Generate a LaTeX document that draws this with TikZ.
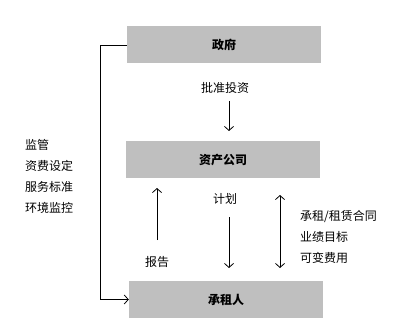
\documentclass[tikz,border=0pt]{standalone}
\usepackage{fontspec}
\setmainfont{Noto Sans CJK SC}
\usepackage{xcolor}
\usetikzlibrary{arrows.meta}
\definecolor{mygray}{HTML}{BFBFBF}

\begin{document}
\begin{tikzpicture}[x=1pt,y=-1pt]
			\tikzset{% styles for boxes, labels and arrows
				graybox/.style={rectangle,minimum width=194pt,minimum height=37pt,fill=mygray,font=\fontsize{12}{14}\selectfont\bfseries},
				textlabel/.style={inner sep=0pt,font=\fontsize{12}{14}\selectfont},
				textlist/.style={inner sep=0pt,align=left,font=\fontsize{12}{21}\selectfont},
				arrowline/.style={-{Straight Barb[length=4pt,width=9pt]},line width=0.8pt}}
			\useasboundingbox (0,0) rectangle (404,334);
			\node[graybox] (gov) at (224,45) {政府};
			\node[graybox] (asset) at (223,159.5) {资产公司};
			\node[graybox] (tenant) at (226,299.5) {承租人};

			\node[textlabel] (approve) at (225,88) {批准投资};
			\node[textlabel] (report) at (157,262) {报告};
			\node[textlabel] (plan) at (225,199) {计划};
			\node[textlist,anchor=west] (duties) at (25,176.5) {监管\\资费设定\\服务标准\\环境监控};
			\node[textlist,anchor=west] (contract) at (300,236.5) {承租/租赁合同\\业绩目标\\可变费用};

			\coordinate (a1) at (229,101);
			\coordinate (a2) at (229,131);
			\coordinate (r1) at (157,240);
			\coordinate (r2) at (157,188);
			\coordinate (p1) at (229,217);
			\coordinate (p2) at (229,268);
			\coordinate (c1) at (280,195);
			\coordinate (c2) at (280,268);

			\draw[arrowline](a1) to (a2);
			\draw[arrowline](r1) to (r2);
			\draw[arrowline](p1) to (p2);
			\draw[arrowline,{Straight Barb[length=4pt,width=9pt]}-{Straight Barb[length=4pt,width=9pt]}](c1) to (c2);
			\draw[arrowline](gov.west) -- ++(-26,0) |- (tenant.west);
		\end{tikzpicture}
\end{document}
